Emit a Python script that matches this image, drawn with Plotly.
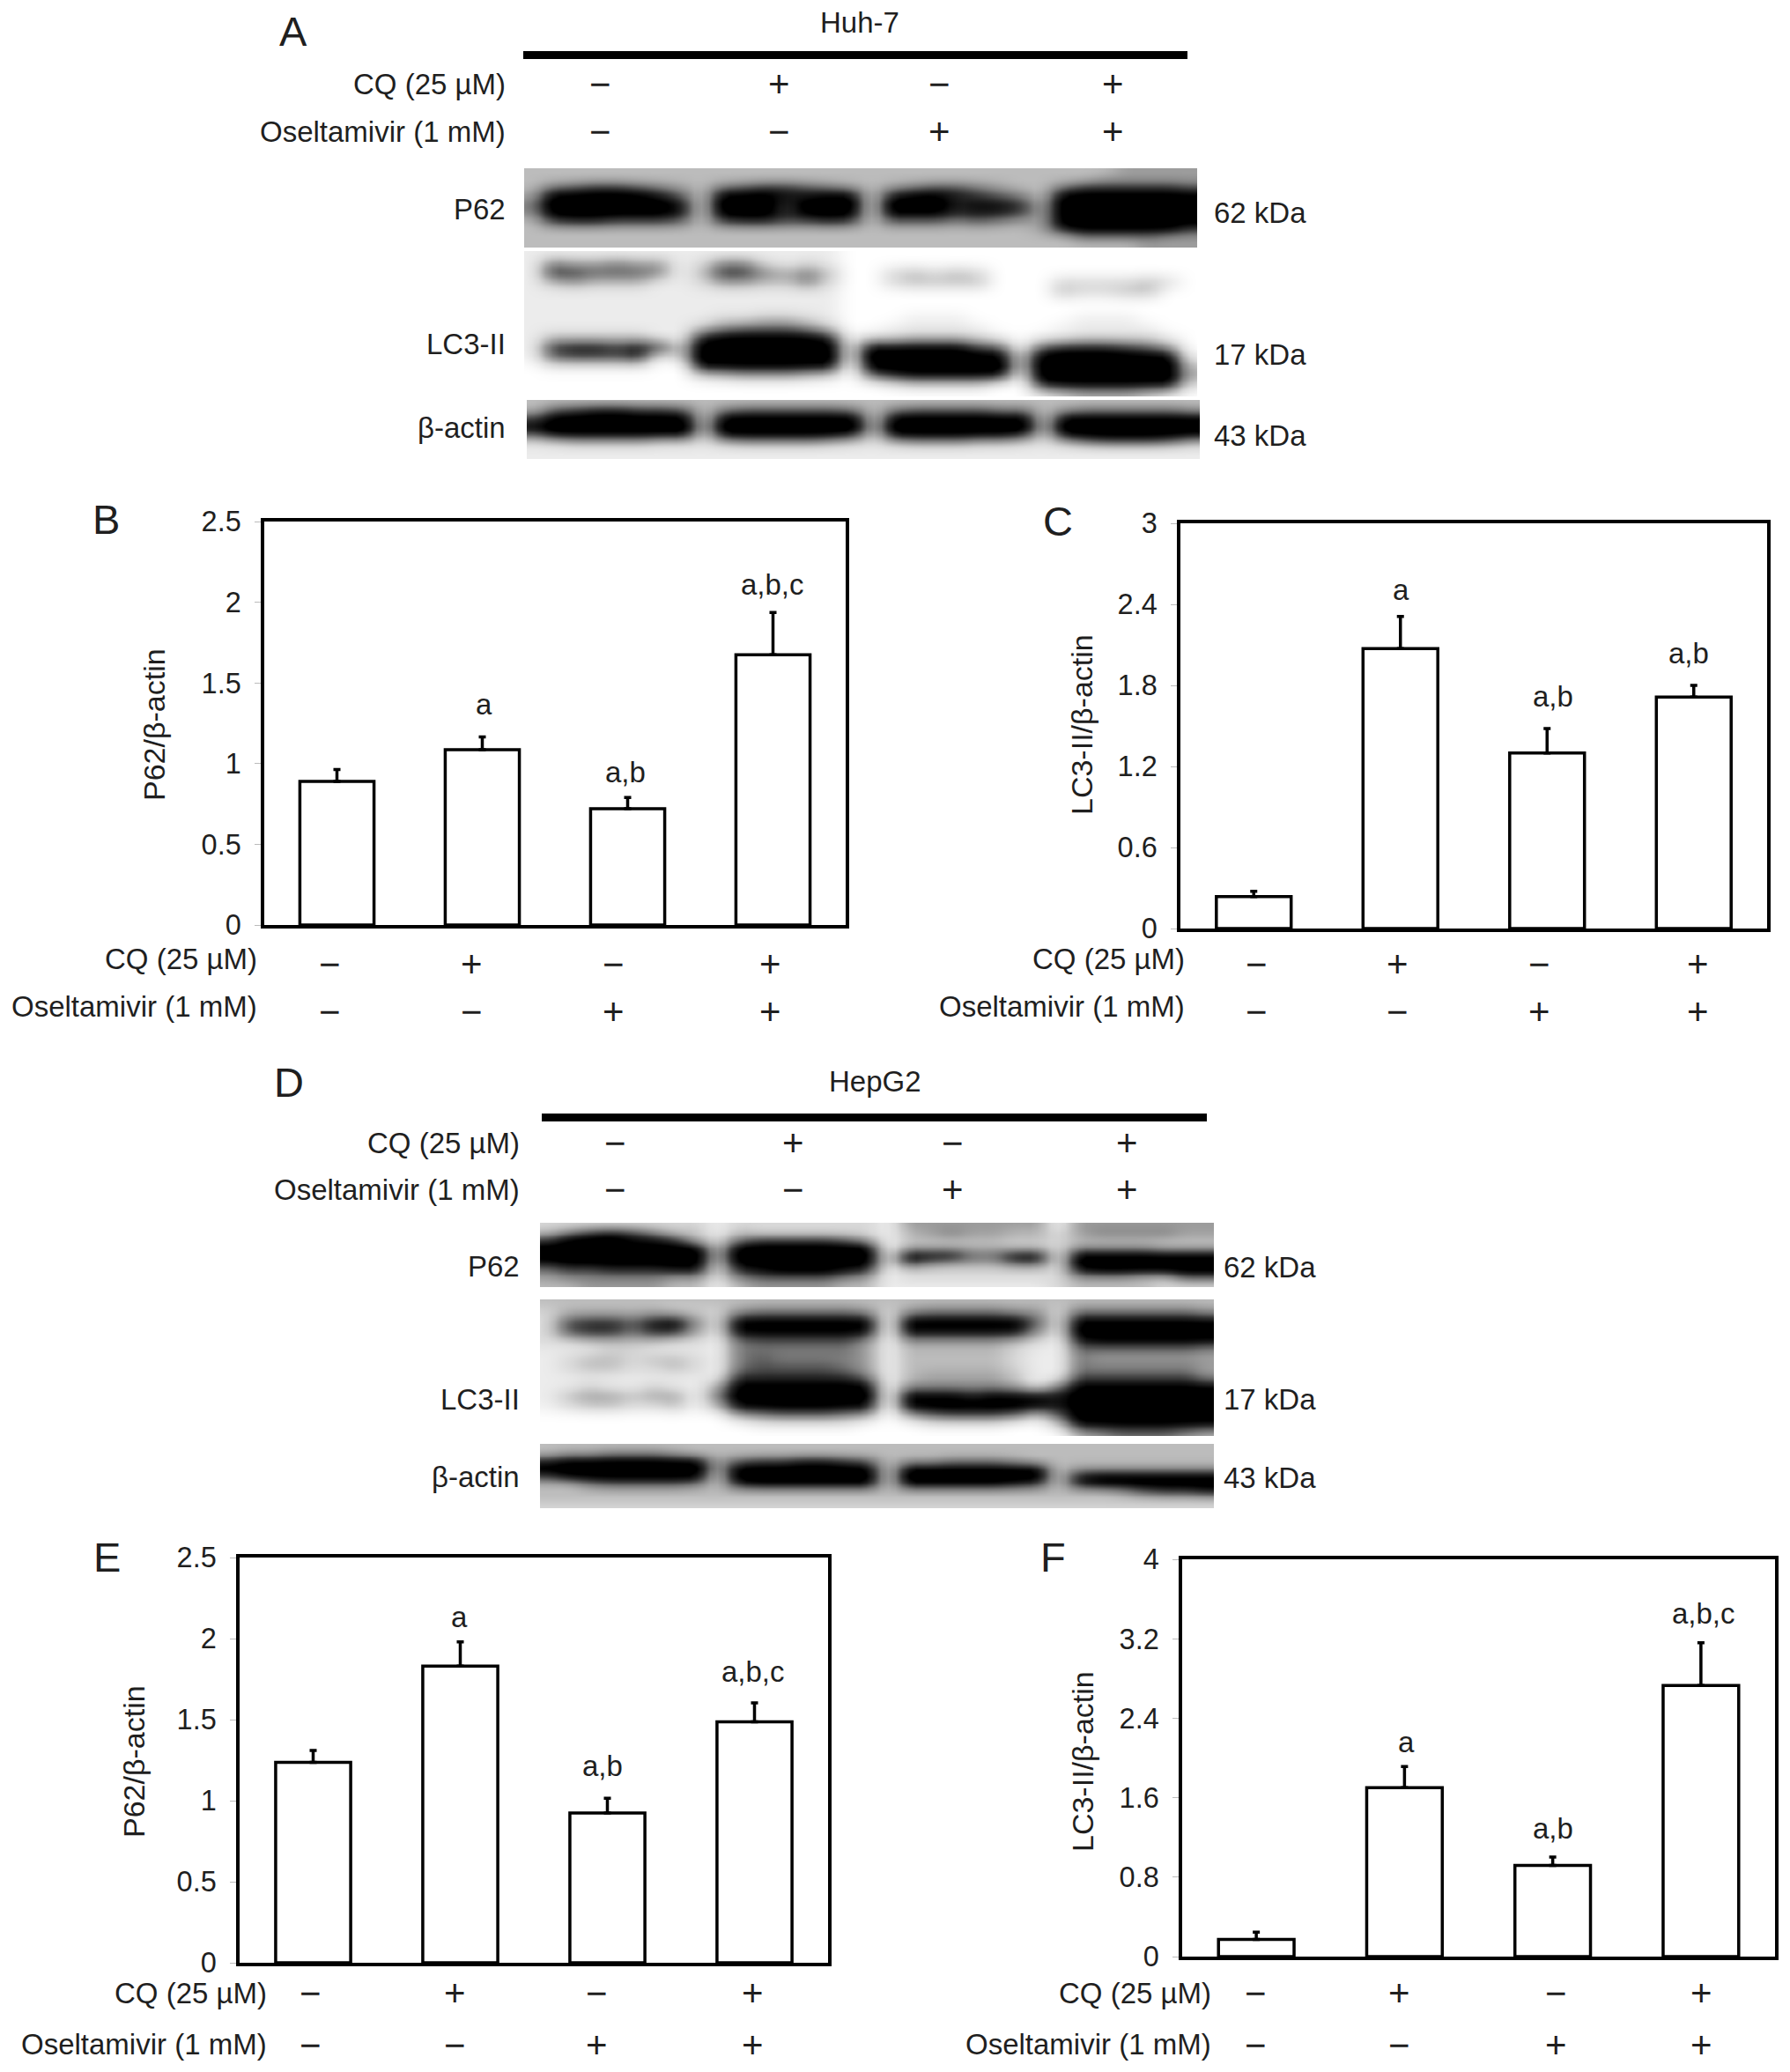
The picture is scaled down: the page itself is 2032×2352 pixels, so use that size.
import numpy as np
import plotly.graph_objects as go

W, H = 2032, 2352
PAGE_MARGIN = 8           # the browser's default body margin
FIG_W, FIG_H = W - PAGE_MARGIN, H - PAGE_MARGIN
FONT = "Liberation Sans"
TXT = "#1f1f1f"

# ---------- bar data ----------
b_means = [0.89, 1.086, 0.72, 1.674]
b_errs = [0.074, 0.08, 0.07, 0.262]
b_labels = ["", "a", "a,b", "a,b,c"]
c_means = [0.237, 2.073, 1.30, 1.713]
c_errs = [0.038, 0.237, 0.18, 0.087]
c_labels = ["", "a", "a,b", "a,b"]
e_means = [1.237, 1.83, 0.924, 1.487]
e_errs = [0.073, 0.15, 0.091, 0.116]
e_labels = ["", "a", "a,b", "a,b,c"]
f_means = [0.172, 1.70, 0.918, 2.73]
f_errs = [0.075, 0.214, 0.085, 0.43]
f_labels = ["", "a", "a,b", "a,b,c"]

groups = [0, 1, 2, 3]
cq_signs = ["\u2212", "+", "\u2212", "+"]
osel_signs = ["\u2212", "\u2212", "+", "+"]
CQ_LABEL = "CQ (25 \u00b5M)"
OSEL_LABEL = "Oseltamivir (1 mM)"

ticks_p62 = [0, 0.5, 1, 1.5, 2, 2.5]
ticklabels_p62 = ["0", "0.5", "1", "1.5", "2", "2.5"]
ticks_c = [0, 0.6, 1.2, 1.8, 2.4, 3]
ticklabels_c = ["0", "0.6", "1.2", "1.8", "2.4", "3"]
ticks_f = [0, 0.8, 1.6, 2.4, 3.2, 4]
ticklabels_f = ["0", "0.8", "1.6", "2.4", "3.2", "4"]

# ---------- blot darkness: 0 = white, 9 = black ----------
blot_a_p62 = [
    "3 3333333 3 3333333 3 3333333 3 3334444",
    "3 3333333 3 3333333 3 3333333 3 3344444",
    "3 5677654 3 5677654 3 4566543 3 5777776",
    "4 9999986 3 9998899 3 8998765 3 9999999",
    "5 9999998 3 9997999 3 9997887 4 9999999",
    "5 9999998 3 9997999 3 9998887 4 9999999",
    "3 7887776 3 7887787 3 6665654 4 9999999",
    "3 3333333 3 3333333 3 3333333 4 8999997",
    "3 3333333 3 3333333 3 3333333 3 3555544",
    "3 3333333 3 3333333 3 3333333 3 3333444",
]
blot_a_lc3 = [
    "1 111111 1 1111111 0 0000000 0 0000000 0",
    "1 544544 1 2552121 0 0000000 0 0000000 0",
    "1 776665 1 3775453 0 0232320 0 0000000 0",
    "1 343331 1 2443352 0 0233330 0 0222232 0",
    "1 111111 1 1111111 0 0000000 0 0322330 0",
    "1 111111 1 1111111 0 0000000 0 0000000 0",
    "1 111111 1 1111111 0 0000000 0 0000000 0",
    "1 111111 1 1223321 0 0011100 0 0011100 0",
    "1 111111 1 3566653 0 0111110 0 0111110 0",
    "1 333331 1 8999998 1 2233321 0 1122221 0",
    "1 788788 3 9999999 2 9999976 1 6888764 0",
    "1 677781 3 9999999 2 9999999 3 9999999 1",
    "0 111110 0 9999999 1 9999999 3 9999999 3",
    "0 000000 0 2344432 0 6899999 2 9999999 4",
    "0 000000 0 0000000 0 0122220 0 8999999 2",
    "0 000000 0 0000000 0 0000000 0 1233321 0",
]
blot_a_actin = [
    "3 3333333 3 3333333 3 3333333 3 3333333",
    "3 6788776 3 5666665 3 5666655 3 4555554",
    "7 9999999 3 9999999 3 9999999 3 9999999",
    "8 9999999 4 9999999 4 9999999 4 9999999",
    "7 9999999 3 9999998 3 9999998 3 9999999",
    "2 3444433 2 4555543 2 4555443 2 4677764",
    "1 1111111 1 1111111 1 1111111 1 1111111",
    "1 1111111 1 1111111 1 1111111 1 1111111",
]
blot_d_p62 = [
    "2 2222222 1 2222222 1 4444444 1 4444444",
    "3 5787533 1 3222222 1 3454433 2 4555544",
    "7 9998873 2 5777764 1 3333333 2 3333333",
    "9 9999999 3 9999999 1 3333322 2 4444333",
    "9 9999999 4 9999999 2 9996699 2 9999999",
    "8 9999999 3 9999999 2 7544466 2 9999999",
    "5 6677788 2 7899987 1 2222222 2 8999999",
    "4 5555544 2 5666654 1 2222222 2 4443366",
    "3 3444433 1 3444433 1 1111111 2 3333222",
]
blot_d_lc3 = [
    "3 3333333 3 3333333 3 3333333 3 3333333",
    "2 3333322 2 4555554 2 4555544 2 5555554",
    "2 6776895 2 9999999 1 9999996 2 9999999",
    "2 7886884 2 9999999 1 9999995 2 9999999",
    "2 2333322 1 5666664 1 4444432 1 8999999",
    "1 1122111 1 5555554 1 3333321 1 5555554",
    "1 2332332 1 5655554 1 3333321 1 5444444",
    "1 2332232 1 5666654 1 3333321 1 5555554",
    "1 1111111 1 7777775 1 3444431 1 6666664",
    "1 1211211 4 9999999 1 4444431 5 9999999",
    "1 3443441 5 9999999 1 9998999 8 9999999",
    "1 2332231 4 9999999 1 9999999 8 9999999",
    "0 0000000 0 4566654 0 4677763 6 9999999",
    "0 0000000 0 0111110 0 0111100 3 9999999",
    "0 0000000 0 0000000 0 0000000 0 3455543",
]
blot_d_actin = [
    "3 3333333 3 3333333 3 3333333 3 3333333",
    "3 4455543 3 3333333 3 3333333 3 3333333",
    "8 9999999 4 6778876 3 4455543 3 3333333",
    "9 9999999 4 9999999 3 9999999 3 4444444",
    "7 9999999 3 9999999 3 9999999 3 8999999",
    "3 3566665 3 8999999 3 9999987 3 8999999",
    "3 3333333 3 3333333 3 3333333 3 3346778",
    "3 3333333 3 3333333 3 3333333 3 3333333",
    "2 2222222 2 2222222 2 2222222 2 2222222",
]

# ---------- layout constants (pixels of the 2032x2352 page) ----------
bar_panels = [
    dict(means=b_means, errs=b_errs, labels=b_labels, box=(300, 960, 592, 1050), ymax=2.5,
         ticks=ticks_p62, ticktext=ticklabels_p62, title="P62/\u03b2-actin", title_pos=(175, 823),
         letter=("B", 120, 589), sign_x=[374, 535, 696, 874], sign_y=(1094.5, 1148), lab_x=292, lab_y=(1088, 1142),
         ann=[None, (549, 800), (710, 876), (877, 664)]),
    dict(means=c_means, errs=c_errs, labels=c_labels, box=(1340, 2006, 594, 1054), ymax=3,
         ticks=ticks_c, ticktext=ticklabels_c, title="LC3-II/\u03b2-actin", title_pos=(1228, 823),
         letter=("C", 1201, 591), sign_x=[1426.5, 1586.5, 1747.5, 1927], sign_y=(1094.5, 1148), lab_x=1345, lab_y=(1088, 1142),
         ann=[None, (1590, 670), (1763, 790), (1917, 741)]),
    dict(means=e_means, errs=e_errs, labels=e_labels, box=(272, 940, 1768, 2228), ymax=2.5,
         ticks=ticks_p62, ticktext=ticklabels_p62, title="P62/\u03b2-actin", title_pos=(152, 2000),
         letter=("E", 121, 1767), sign_x=[352, 516, 677, 854.5], sign_y=(2262.5, 2321), lab_x=302.5, lab_y=(2262, 2320),
         ann=[None, (521.5, 1835), (684, 2004), (855, 1897)]),
    dict(means=f_means, errs=f_errs, labels=f_labels, box=(1342, 2015, 1770, 2221), ymax=4,
         ticks=ticks_f, ticktext=ticklabels_f, title="LC3-II/\u03b2-actin", title_pos=(1229, 2000),
         letter=("F", 1195, 1767), sign_x=[1425.5, 1588.5, 1766, 1931], sign_y=(2262.5, 2321), lab_x=1374.5, lab_y=(2262, 2320),
         ann=[None, (1596, 1977), (1763, 2075), (1934, 1831)]),
]

blot_panels = [
    dict(letter=("A", 332.7, 36), cell=("Huh-7", 976, 26), bar=(594, 1348, 58, 67), sign_x=[681.5, 884, 1066, 1263],
         sign_y=(95.4, 149), lab_x=573.5,
         strips=[(blot_a_p62, (595, 1359, 191, 281)), (blot_a_lc3, (595, 1359, 285, 450)), (blot_a_actin, (598, 1362, 454, 521))],
         names=[("P62", 237), ("LC3-II", 391), ("\u03b2-actin", 485)],
         kda_x=1377.5, kda=[("62 kDa", 241.5), ("17 kDa", 402.5), ("43 kDa", 494)]),
    dict(letter=("D", 327.7, 1228), cell=("HepG2", 993, 1227), bar=(615, 1370, 1264, 1273), sign_x=[698.3, 900, 1081.8, 1279.6],
         sign_y=(1297.3, 1351), lab_x=589.5,
         strips=[(blot_d_p62, (613, 1378, 1388, 1461)), (blot_d_lc3, (613, 1378, 1475, 1630)), (blot_d_actin, (613, 1378, 1639, 1712))],
         names=[("P62", 1437), ("LC3-II", 1588), ("\u03b2-actin", 1676)],
         kda_x=1388.5, kda=[("62 kDa", 1438), ("17 kDa", 1588.5), ("43 kDa", 1677)]),
]

FS = 33
TICK_FS = 32.5
SIGN_FS = 42
BLOT_SCALE = [[0, "#ffffff"], [1 / 9, "#ececec"], [2 / 9, "#d8d8d8"], [3 / 9, "#bcbcbc"], [5 / 9, "#7c7c7c"],
              [7 / 9, "#2c2c2c"], [8.3 / 9, "#000000"], [1, "#000000"]]

fig = go.Figure()
annotations, shapes = [], []
layout = {}


def fx(x):
    return (x - PAGE_MARGIN) / FIG_W


def fy(y):
    return 1 - (y - PAGE_MARGIN) / FIG_H


def text(s, x, y, size=FS, xanchor="center", angle=0):
    annotations.append(dict(text=s, x=fx(x), y=fy(y), xref="paper", yref="paper", showarrow=False,
                            xanchor=xanchor, yanchor="middle", textangle=angle,
                            font=dict(family=FONT, size=size, color=TXT), borderpad=0, borderwidth=0))


axis_no = 0


def next_axes(box):
    global axis_no
    axis_no += 1
    l, r, t, b = box
    sx = "" if axis_no == 1 else str(axis_no)
    return sx, dict(domain=[fx(l), fx(r)], anchor="y" + sx), dict(domain=[fy(b), fy(t)], anchor="x" + sx)


def sign_rows(xs, ys):
    for i in groups:
        text(cq_signs[i], xs[i], ys[0], size=SIGN_FS)
        text(osel_signs[i], xs[i], ys[1], size=SIGN_FS)


def soften(grid, factor=3):
    """Enlarge the coarse reading and blur it, the way the film's bands bleed."""
    z = np.array([[int(c) for c in row.replace(" ", "")] for row in grid], dtype=float)
    z = np.repeat(np.repeat(z, factor, axis=0), factor, axis=1)
    kx = np.array([1, 2, 3, 2, 1], dtype=float)
    ky = np.array([1, 2, 3, 4, 5, 4, 3, 2, 1], dtype=float)
    for axis, k in ((1, kx), (0, ky)):
        k = k / k.sum()
        pad = len(k) // 2
        widths = [(pad, pad) if a == axis else (0, 0) for a in (0, 1)]
        padded = np.pad(z, widths, mode="edge")
        z = np.apply_along_axis(lambda v: np.convolve(v, k, mode="valid"), axis, padded)
    return z


for p in bar_panels:
    sx, xa, ya = next_axes(p["box"])
    fig.add_trace(go.Bar(
        x=groups, y=p["means"], width=0.51, xaxis="x" + sx, yaxis="y" + sx, showlegend=False,
        marker=dict(color="white", line=dict(color="black", width=3.5)),
        error_y=dict(type="data", symmetric=False, array=p["errs"], arrayminus=[0, 0, 0, 0],
                     color="black", thickness=3.5, width=4),
    ))
    xa.update(range=[-0.5, 3.5], showticklabels=False, ticks="", showline=True, mirror=True,
              linecolor="black", linewidth=3.5, showgrid=False, zeroline=False)
    ya.update(range=[0, p["ymax"]], tickvals=p["ticks"], ticktext=p["ticktext"], ticks="outside", ticklen=7,
              tickcolor="#bbbbbb", tickwidth=1, showline=True, mirror=True, linecolor="black", linewidth=3.5,
              showgrid=False, zeroline=False, ticklabelstandoff=9,
              tickfont=dict(family=FONT, size=TICK_FS, color=TXT))
    layout["xaxis" + sx], layout["yaxis" + sx] = xa, ya
    text(p["title"], *p["title_pos"], size=34, angle=-90)
    text(p["letter"][0], p["letter"][1], p["letter"][2], size=47)
    text(CQ_LABEL, p["lab_x"], p["lab_y"][0], xanchor="right")
    text(OSEL_LABEL, p["lab_x"], p["lab_y"][1], xanchor="right")
    sign_rows(p["sign_x"], p["sign_y"])
    for i in groups:
        if p["ann"][i]:
            text(p["labels"][i], *p["ann"][i])

for p in blot_panels:
    text(p["letter"][0], p["letter"][1], p["letter"][2], size=47)
    text(p["cell"][0], p["cell"][1], p["cell"][2])
    l, r, t, b = p["bar"]
    shapes.append(dict(type="rect", xref="paper", yref="paper", x0=fx(l), x1=fx(r), y0=fy(b), y1=fy(t),
                       fillcolor="black", line=dict(width=0)))
    text(CQ_LABEL, p["lab_x"], p["sign_y"][0], xanchor="right")
    text(OSEL_LABEL, p["lab_x"], p["sign_y"][1], xanchor="right")
    sign_rows(p["sign_x"], p["sign_y"])
    for grid, box in p["strips"]:
        z = soften(grid)
        ny, nx = z.shape
        sx, xa, ya = next_axes(box)
        fig.add_trace(go.Heatmap(z=z.round(2).tolist(), xaxis="x" + sx, yaxis="y" + sx, zmin=0, zmax=9, zsmooth="best",
                                 colorscale=BLOT_SCALE, showscale=False, hoverinfo="skip"))
        xa.update(visible=False, range=[0, nx - 1])
        ya.update(visible=False, range=[ny - 1, 0])
        layout["xaxis" + sx], layout["yaxis" + sx] = xa, ya
    for s, y in p["names"]:
        text(s, p["lab_x"], y, xanchor="right")
    for s, y in p["kda"]:
        text(s, p["kda_x"], y, xanchor="left")

fig.update_layout(width=FIG_W, height=FIG_H, margin=dict(l=0, r=0, t=0, b=0, autoexpand=False),
                  paper_bgcolor="white", plot_bgcolor="white",
                  showlegend=False, annotations=annotations, shapes=shapes, **layout)
fig.write_html("out.html")
